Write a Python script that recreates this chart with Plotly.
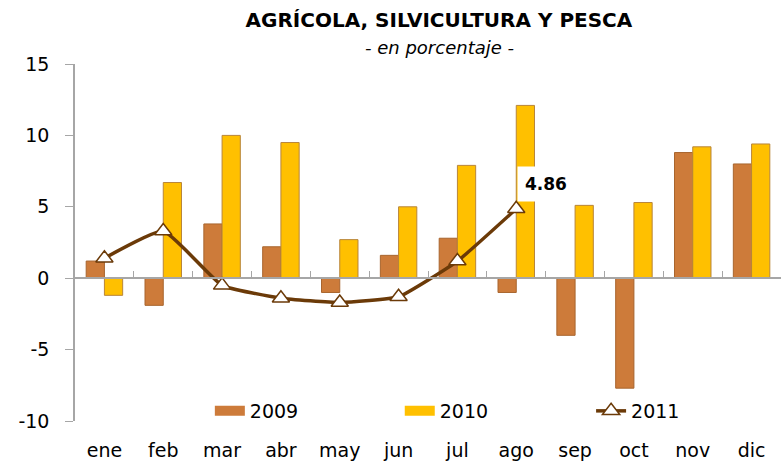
import plotly.graph_objects as go

months = ["ene", "feb", "mar", "abr", "may", "jun", "jul", "ago", "sep", "oct", "nov", "dic"]
v2009 = [1.2, -1.9, 3.8, 2.2, -1.0, 1.6, 2.8, -1.0, -4.0, -7.7, 8.8, 8.0]
v2010 = [-1.2, 6.7, 10.0, 9.5, 2.7, 5.0, 7.9, 12.1, 5.1, 5.3, 9.2, 9.4]
months2011 = ["ene", "feb", "mar", "abr", "may", "jun", "jul", "ago"]
v2011 = [1.4, 3.3, -0.5, -1.4, -1.7, -1.3, 1.2, 4.86]
y_ticks = [-10, -5, 0, 5, 10, 15]
y_ticktext = ["-10", "-5", "0", "5", "10", "15"]

FONT = "DejaVu Sans"
LINE = "#6B3A08"
AX = "#A6A6A6"
C2009 = "#CD7B3A"
C2010 = "#FFC000"

fig = go.Figure()
fig.add_trace(go.Bar(x=months, y=v2009, name="2009", showlegend=False,
                     marker=dict(color=C2009, line=dict(color="#A8652E", width=1))))
fig.add_trace(go.Bar(x=months, y=v2010, name="2010", showlegend=False,
                     marker=dict(color=C2010, line=dict(color="#B8853A", width=1))))
fig.add_trace(go.Scatter(x=months2011, y=v2011, name="2011", mode="lines+markers", legend="legend3",
                         line=dict(color=LINE, width=3.5, shape="spline", smoothing=0.4),
                         marker=dict(symbol="triangle-up", size=15, color="white",
                                     line=dict(color=LINE, width=1.5))))
# legend entries for the bar series (wide swatches)
fig.add_trace(go.Scatter(x=[None], y=[None], name="2009", mode="lines", legend="legend",
                         line=dict(color=C2009, width=10), hoverinfo="skip"))
fig.add_trace(go.Scatter(x=[None], y=[None], name="2010", mode="lines", legend="legend2",
                         line=dict(color=C2010, width=10), hoverinfo="skip"))
# invisible trace for bottom label axis
fig.add_trace(go.Scatter(x=months, y=[None] * len(months), xaxis="x2", showlegend=False,
                         hoverinfo="skip", mode="markers"))

fig.add_annotation(x="ago", y=v2011[-1], text="<b>4.86</b>", showarrow=False, yshift=25, xshift=30,
                   font=dict(family=FONT, size=17, color="black"), bgcolor="white",
                   borderpad=7)
fig.add_annotation(xref="paper", yref="paper", x=0.516, y=1.0476, yanchor="middle",
                   text="<i>- en porcentaje -</i>", showarrow=False,
                   font=dict(family=FONT, size=18, color="black"))

leg_common = dict(orientation="h", y=0.028, yanchor="middle", xanchor="left",
                  bgcolor="rgba(0,0,0,0)", font=dict(family=FONT, size=19, color="black"),
                  itemwidth=30)

fig.update_layout(
    width=781, height=462,
    margin=dict(l=75, r=0, t=64, b=41),
    paper_bgcolor="white", plot_bgcolor="white",
    barmode="group", bargap=0.38, bargroupgap=0.0,
    title=dict(text="<b>AGRÍCOLA, SILVICULTURA Y PESCA</b>",
               x=0.562, xanchor="center", y=1 - 20 / 462, yanchor="middle",
               font=dict(family=FONT, size=20, color="black")),
    font=dict(family=FONT, size=18, color="black"),
    xaxis=dict(type="category", categoryarray=months, range=[-0.5, 11.5],
               anchor="free", position=0.4, showline=True, linecolor=AX, linewidth=1.5,
               tickson="boundaries", ticks="inside", ticklen=6, tickcolor=AX,
               showticklabels=False, showgrid=False, zeroline=False, automargin=False),
    xaxis2=dict(type="category", categoryarray=months, range=[-0.5, 11.5],
                overlaying="x", anchor="y", side="bottom", showline=False, ticks="",
                showgrid=False, zeroline=False, ticklabelstandoff=16, automargin=False,
                tickfont=dict(family=FONT, size=19, color="black")),
    yaxis=dict(range=[-10, 15], tickvals=y_ticks, ticktext=y_ticktext, showline=True,
               linecolor=AX, linewidth=1.5, ticks="outside", ticklen=8, tickcolor=AX,
               showgrid=False, zeroline=False, ticklabelstandoff=12, automargin=False,
               tickfont=dict(family=FONT, size=19, color="black")),
    legend=dict(x=0.191, **leg_common),
    legend2=dict(x=0.460, **leg_common),
    legend3=dict(x=0.731, **leg_common),
    showlegend=True,
)

fig.write_html("out.html", config={"displayModeBar": False},
               post_script="document.body.style.margin='0';")
